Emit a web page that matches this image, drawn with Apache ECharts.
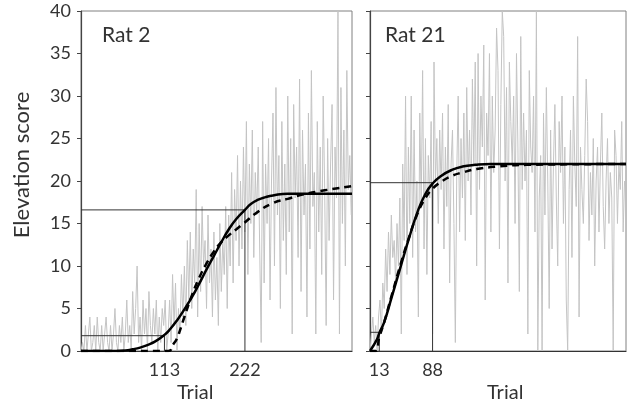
<!DOCTYPE html>
<html>
<head>
<meta charset="utf-8">
<script src="https://cdn.jsdelivr.net/npm/echarts@6/dist/echarts.min.js"></script>
<style>
  html, body { margin: 0; padding: 0; background: #fff; }
  #chart { width: 627px; height: 405px; }
</style>
</head>
<body>
<div id="chart"></div>
<script>
// trial step of the raw score arrays
const trialStep = 2;

// Rat 2 raw elevation scores (every 2nd trial, 0..366)
const rat2Scores = [
    0, 1, 0, 3, 0, 2, 4, 0, 1, 3,
    0, 4, 1, 0, 3, 0, 2, 4, 1, 0,
    3, 0, 2, 5, 1, 0, 3, 1, 4, 0,
    2, 6, 1, 3, 0, 7, 2, 5, 10, 1,
    4, 0, 6, 2, 5, 0, 7, 3, 1, 5,
    2, 6, 0, 4, 1, 5, 3, 6, 0, 2,
    6, 1, 9, 3, 8, 0, 5, 2, 9, 4,
    10, 3, 13, 6, 14, 5, 12, 8, 19, 4,
    15, 7, 17, 10, 13, 5, 16, 8, 12, 4,
    14, 6, 11, 3, 15, 7, 13, 9, 17, 5,
    16, 10, 21, 8, 19, 13, 23, 10, 20, 12,
    24, 14, 27, 9, 22, 15, 26, 11, 21, 16,
    24, 12, 1, 27, 8, 22, 15, 25, 6, 20,
    28, 10, 31, 16, 23, 5, 27, 13, 22, 9,
    30, 14, 25, 2, 29, 18, 24, 11, 32, 7,
    26, 16, 22, 4, 28, 12, 33, 17, 21, 2,
    27, 14, 24, 9, 30, 19, 3, 25, 13, 22,
    29, 6, 24, 18, 40, 2, 31, 15, 26, 10,
    33, 19, 23, 16
];

// Rat 21 raw elevation scores (every 2nd trial, 0..358)
const rat21Scores = [
    0, 2, 4, 1, 3, 0, 4, 6, 2, 8,
    5, 12, 7, 14, 9, 16, 11, 13, 8, 15,
    10, 18, 2, 22, 13, 30, 9, 24, 15, 30,
    11, 26, 14, 20, 4, 28, 17, 33, 12, 25,
    9, 23, 18, 27, 2, 34, 20, 25, 15, 26,
    19, 28, 12, 24, 17, 29, 8, 22, 26, 15,
    1, 21, 30, 14, 25, 18, 28, 13, 31, 20,
    26, 16, 32, 22, 34, 10, 35, 19, 30, 24,
    36, 6, 28, 23, 35, 14, 30, 21, 26, 38,
    33, 12, 29, 40, 37, 20, 31, 8, 34, 27,
    22, 30, 15, 35, 24, 7, 37, 19, 28, 20,
    26, 2, 33, 24, 21, 30, 14, 40, 0, 18,
    23, 0, 28, 16, 31, 20, 5, 26, 12, 22,
    29, 18, 10, 27, 21, 30, 15, 24, 6, 0,
    19, 26, 11, 30, 22, 17, 37, 4, 24, 19,
    15, 23, 32, 27, 13, 21, 16, 25, 10, 20,
    24, 14, 22, 28, 17, 12, 20, 25, 15, 21,
    18, 0, 26, 23, 15, 22, 19, 27, 14, 20
];

// fitted curves (trial, value)
const rat2FitX = [0, 50, 60, 70, 80, 90, 100, 113, 120, 130, 140, 150, 160, 170, 180, 190, 200, 210, 222, 230, 240, 250, 260, 280, 367];
const rat2FitY = [0, 0, 0.05, 0.2, 0.4, 0.7, 1.1, 1.9, 2.5, 3.6, 4.9, 6.3, 7.9, 9.6, 11.2, 12.8, 14.3, 15.5, 16.6, 17.3, 17.8, 18.1, 18.3, 18.5, 18.5];
const rat2AltX = [0, 118, 125, 130, 140, 150, 160, 170, 180, 190, 200, 210, 220, 240, 260, 280, 300, 330, 367];
const rat2AltY = [0, 0, 0.8, 1.5, 4, 6.5, 8.6, 10.3, 11.7, 12.8, 13.6, 14.3, 15, 16.4, 17.4, 17.9, 18.4, 18.9, 19.4];

const rat21FitX = [0, 10, 13, 20, 30, 43, 55, 67, 78, 88, 100, 115, 130, 148, 170, 360];
const rat21FitY = [0, 1.4, 2.1, 3.4, 6.2, 9.9, 13.3, 16.4, 18.5, 19.7, 20.6, 21.3, 21.7, 21.9, 22, 22];
const rat21AltX = [0, 8, 13, 20, 30, 43, 55, 67, 78, 88, 100, 115, 130, 150, 180, 220, 360];
const rat21AltY = [0, 0, 1.6, 3.4, 6.4, 10.2, 13.4, 16.2, 18, 19.1, 19.9, 20.6, 21, 21.4, 21.7, 21.9, 22];

// marker trials and levels
const rat2Marks = [113, 222];
const rat2Levels = [1.8, 16.6];
const rat21Marks = [13, 88];
const rat21Levels = [2.2, 19.8];

const fontName = 'Lato, "Open Sans", sans-serif';

function pairs(xs, ys) {
    return xs.map((x, i) => [x, ys[i]]);
}

function rawData(scores) {
    return scores.map((v, i) => [i * trialStep, v]);
}

function markLines(marks, levels, idx) {
    // horizontal from 0 to the trial, then down to the axis
    return marks.map((m, k) => ({
        type: 'line',
        xAxisIndex: idx,
        yAxisIndex: idx,
        data: [[0, levels[k]], [m, levels[k]], [m, 0]],
        symbol: 'none',
        lineStyle: { color: '#333', width: 1 },
        silent: true,
        z: 3
    }));
}

function fitSeries(data, idx, dashed) {
    return {
        type: 'line',
        xAxisIndex: idx,
        yAxisIndex: idx,
        data: data,
        smooth: true,
        symbol: 'none',
        lineStyle: {
            color: '#000',
            width: 2.5,
            type: dashed ? [7, 5] : 'solid'
        },
        z: dashed ? 4 : 5
    };
}

const chart = echarts.init(document.getElementById('chart'));

const option = {
    animation: false,
    grid: [
        { left: 81, top: 11, width: 271, height: 340, show: true, borderColor: '#808080', borderWidth: 1 },
        { left: 370, top: 11, width: 256, height: 340, show: true, borderColor: '#808080', borderWidth: 1 }
    ],
    xAxis: [
        {
            type: 'value', gridIndex: 0, min: 0, max: 367,
            axisLine: { lineStyle: { color: '#333', width: 1.2 } },
            axisTick: { show: false },
            splitLine: { show: false },
            axisLabel: { customValues: rat2Marks, fontSize: 18, color: '#333', margin: 10, fontFamily: fontName }
        },
        {
            type: 'value', gridIndex: 1, min: 0, max: 360,
            axisLine: { lineStyle: { color: '#333', width: 1.2 } },
            axisTick: { show: false },
            splitLine: { show: false },
            axisLabel: { customValues: rat21Marks, fontSize: 18, color: '#333', margin: 10, fontFamily: fontName }
        }
    ],
    yAxis: [
        {
            type: 'value', gridIndex: 0, min: 0, max: 40, interval: 5,
            axisLine: { show: true, lineStyle: { color: '#444', width: 1.2 } },
            axisTick: { show: true, length: 4, lineStyle: { color: '#444' } },
            splitLine: { show: false },
            axisLabel: { fontSize: 18, color: '#333', margin: 10, fontFamily: fontName }
        },
        {
            type: 'value', gridIndex: 1, min: 0, max: 40, interval: 5,
            axisLine: { show: true, lineStyle: { color: '#444', width: 1.2 } },
            axisTick: { show: true, length: 4, lineStyle: { color: '#444' } },
            splitLine: { show: false },
            axisLabel: { show: false }
        }
    ],
    graphic: [
        { type: 'text', left: 102, top: 25, style: { text: 'Rat 2', font: '21px ' + fontName, fill: '#333' } },
        { type: 'text', left: 385, top: 25, style: { text: 'Rat 21', font: '21px ' + fontName, fill: '#333' } },
        { type: 'text', left: 177, top: 383, style: { text: 'Trial', font: '20px ' + fontName, fill: '#333' } },
        { type: 'text', left: 487, top: 383, style: { text: 'Trial', font: '20px ' + fontName, fill: '#333' } },
        {
            type: 'text', x: 22, y: 165, rotation: Math.PI / 2,
            style: { text: 'Elevation score', font: '22px ' + fontName, fill: '#333', align: 'center', verticalAlign: 'middle' }
        }
    ],
    series: [
        {
            type: 'line', xAxisIndex: 0, yAxisIndex: 0,
            data: rawData(rat2Scores), symbol: 'none',
            lineStyle: { color: '#c4c4c4', width: 1 }, z: 2
        },
        {
            type: 'line', xAxisIndex: 1, yAxisIndex: 1,
            data: rawData(rat21Scores), symbol: 'none',
            lineStyle: { color: '#c4c4c4', width: 1 }, z: 2
        },
        ...markLines(rat2Marks, rat2Levels, 0),
        ...markLines(rat21Marks, rat21Levels, 1),
        fitSeries(pairs(rat2AltX, rat2AltY), 0, true),
        fitSeries(pairs(rat2FitX, rat2FitY), 0, false),
        fitSeries(pairs(rat21AltX, rat21AltY), 1, true),
        fitSeries(pairs(rat21FitX, rat21FitY), 1, false)
    ]
};

chart.setOption(option);
</script>
</body>
</html>
